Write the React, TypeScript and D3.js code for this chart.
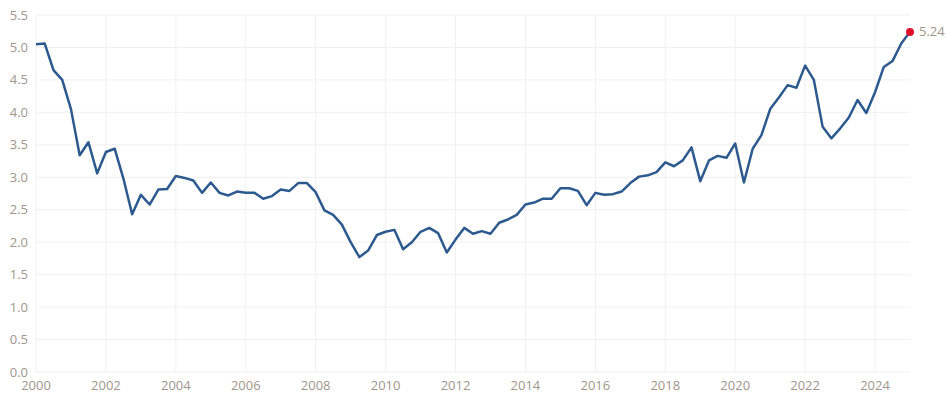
import React, { useEffect, useRef } from 'react';
import * as d3 from 'd3';

// quarterly values, 2000 Q1 .. 2025 Q1
const values = [
  5.05, 5.06, 4.65, 4.50, 4.05, 3.34, 3.54, 3.06,
  3.39, 3.44, 2.98, 2.43, 2.73, 2.58, 2.81, 2.82,
  3.02, 2.99, 2.95, 2.76, 2.92, 2.76, 2.72, 2.78,
  2.76, 2.76, 2.67, 2.71, 2.81, 2.79, 2.91, 2.91,
  2.77, 2.49, 2.42, 2.27, 2.00, 1.77, 1.87, 2.11,
  2.16, 2.19, 1.89, 2.00, 2.16, 2.22, 2.14, 1.84,
  2.04, 2.22, 2.13, 2.17, 2.13, 2.30, 2.35, 2.42,
  2.58, 2.61, 2.67, 2.67, 2.83, 2.83, 2.79, 2.57,
  2.76, 2.73, 2.74, 2.78, 2.91, 3.01, 3.03, 3.08,
  3.23, 3.17, 3.26, 3.46, 2.94, 3.26, 3.33, 3.30,
  3.52, 2.92, 3.44, 3.65, 4.05, 4.23, 4.42, 4.38,
  4.72, 4.50, 3.78, 3.60, 3.75, 3.92, 4.19, 3.99,
  4.31, 4.70, 4.79, 5.06, 5.24,
];
const startYear = 2000;
const xTicks = [2000, 2002, 2004, 2006, 2008, 2010, 2012, 2014, 2016, 2018, 2020, 2022, 2024];
const yTicks = [0, 0.5, 1, 1.5, 2, 2.5, 3, 3.5, 4, 4.5, 5, 5.5];

const W = 945;
const H = 394;
const labelColor = '#a0968b';
const lineColor = '#2d5a8e';

const App = () => {
  const svgRef = useRef<SVGSVGElement | null>(null);

  useEffect(() => {
    if (!svgRef.current) return;
    const svg = d3.select(svgRef.current);
    svg.selectAll('*').remove();

    const x = d3.scaleLinear().domain([2000, 2025]).range([36, 910]);
    const y = d3.scaleLinear().domain([0, 5.5]).range([372, 15]);

    const grid = svg.append('g');
    yTicks.forEach(t => {
      grid.append('line')
        .attr('x1', x(2000)).attr('x2', x(2025))
        .attr('y1', y(t)).attr('y2', y(t))
        .attr('stroke', '#f0f0f0').attr('stroke-width', 1);
    });
    xTicks.forEach(t => {
      grid.append('line')
        .attr('x1', x(t)).attr('x2', x(t))
        .attr('y1', y(5.5)).attr('y2', y(0))
        .attr('stroke', '#f0f0f0').attr('stroke-width', 1);
    });

    // y labels
    svg.append('g').selectAll('text')
      .data(yTicks)
      .join('text')
      .attr('x', 28)
      .attr('y', d => y(d))
      .attr('dy', '0.35em')
      .attr('text-anchor', 'end')
      .attr('fill', labelColor)
      .attr('font-size', 13)
      .text(d => d3.format('.1f')(d));

    // x labels
    svg.append('g').selectAll('text')
      .data(xTicks)
      .join('text')
      .attr('x', d => x(d))
      .attr('y', 390)
      .attr('text-anchor', 'middle')
      .attr('fill', labelColor)
      .attr('font-size', 13)
      .text(d => String(d));

    const pts = values.map((v, i) => [startYear + i / 4, v] as [number, number]);
    const line = d3.line<[number, number]>()
      .x(d => x(d[0]))
      .y(d => y(d[1]));

    svg.append('path')
      .datum(pts)
      .attr('d', line)
      .attr('fill', 'none')
      .attr('stroke', lineColor)
      .attr('stroke-width', 2.5)
      .attr('stroke-linejoin', 'round');

    const last = pts[pts.length - 1];
    svg.append('circle')
      .attr('cx', x(last[0]))
      .attr('cy', y(last[1]))
      .attr('r', 4)
      .attr('fill', '#e0102a');

    svg.append('text')
      .attr('x', x(last[0]) + 9)
      .attr('y', y(last[1]))
      .attr('dy', '0.35em')
      .attr('fill', labelColor)
      .attr('font-size', 13)
      .text(last[1].toFixed(2));
  }, []);

  return (
    <svg
      ref={svgRef}
      width={W}
      height={H}
      style={{ position: 'absolute', left: 0, top: 0, background: '#fff', fontFamily: '"Open Sans", sans-serif' }}
    />
  );
};

export default App;
